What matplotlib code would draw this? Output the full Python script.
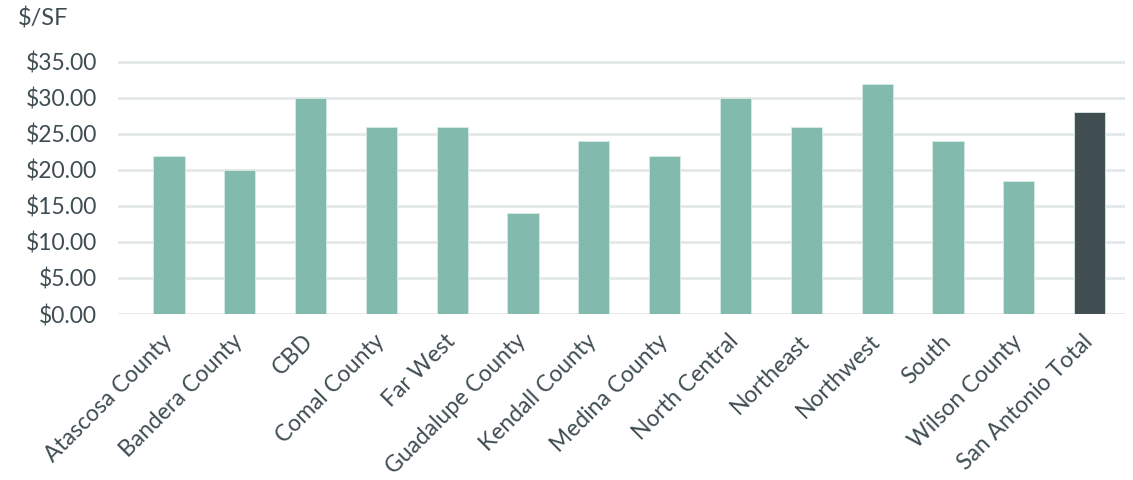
import matplotlib.pyplot as plt
import matplotlib.transforms as mtransforms
from matplotlib.ticker import FuncFormatter

submarkets = ['Atascosa County', 'Bandera County', 'CBD', 'Comal County', 'Far West',
              'Guadalupe County', 'Kendall County', 'Medina County', 'North Central',
              'Northeast', 'Northwest', 'South', 'Wilson County', 'San Antonio Total']
rent = [22, 20, 30, 26, 26, 14, 24, 22, 30, 26, 32, 24, 18.5, 28]

plt.rcParams['font.family'] = ['Lato', 'DejaVu Sans']

colors = ['#82bbad'] * (len(submarkets) - 1) + ['#414f53']

fig = plt.figure(figsize=(11.33, 4.8), dpi=100)
ax = fig.add_axes([118 / 1133, 1 - 314 / 480, (1125 - 118) / 1133, 254.2 / 480])

ax.bar(range(len(submarkets)), rent, width=0.44, color=colors,
       edgecolor='#d6ebe5', linewidth=0.6, zorder=3)

ax.set_xlim(-0.72, 13.5)
ax.set_ylim(0, 35.3)
ax.set_yticks(range(0, 36, 5))
ax.yaxis.set_major_formatter(FuncFormatter(lambda v, p: f'${v:.2f}'))
ax.grid(axis='y', color='#e3e8e8', linewidth=2, zorder=0)
for s in ax.spines.values():
    s.set_visible(False)

ax.set_xticks(range(len(submarkets)))
ax.set_xticklabels(submarkets, rotation=45, ha='right', va='top', rotation_mode='anchor')
ax.tick_params(axis='both', length=0, labelsize=16.5, labelcolor='#3f4d52')
ax.tick_params(axis='x', pad=12)
ax.tick_params(axis='y', pad=15)

# nudge rotated labels a little to the left
shift = mtransforms.ScaledTranslation(-8 / 100, 0, fig.dpi_scale_trans)
for lbl in ax.get_xticklabels():
    lbl.set_transform(lbl.get_transform() + shift)

fig.text(18 / 1133, 1 - 19 / 480, '$/SF', fontsize=17, color='#3f4d52',
         va='center', ha='left')

fig.savefig('out.png', dpi=100)
